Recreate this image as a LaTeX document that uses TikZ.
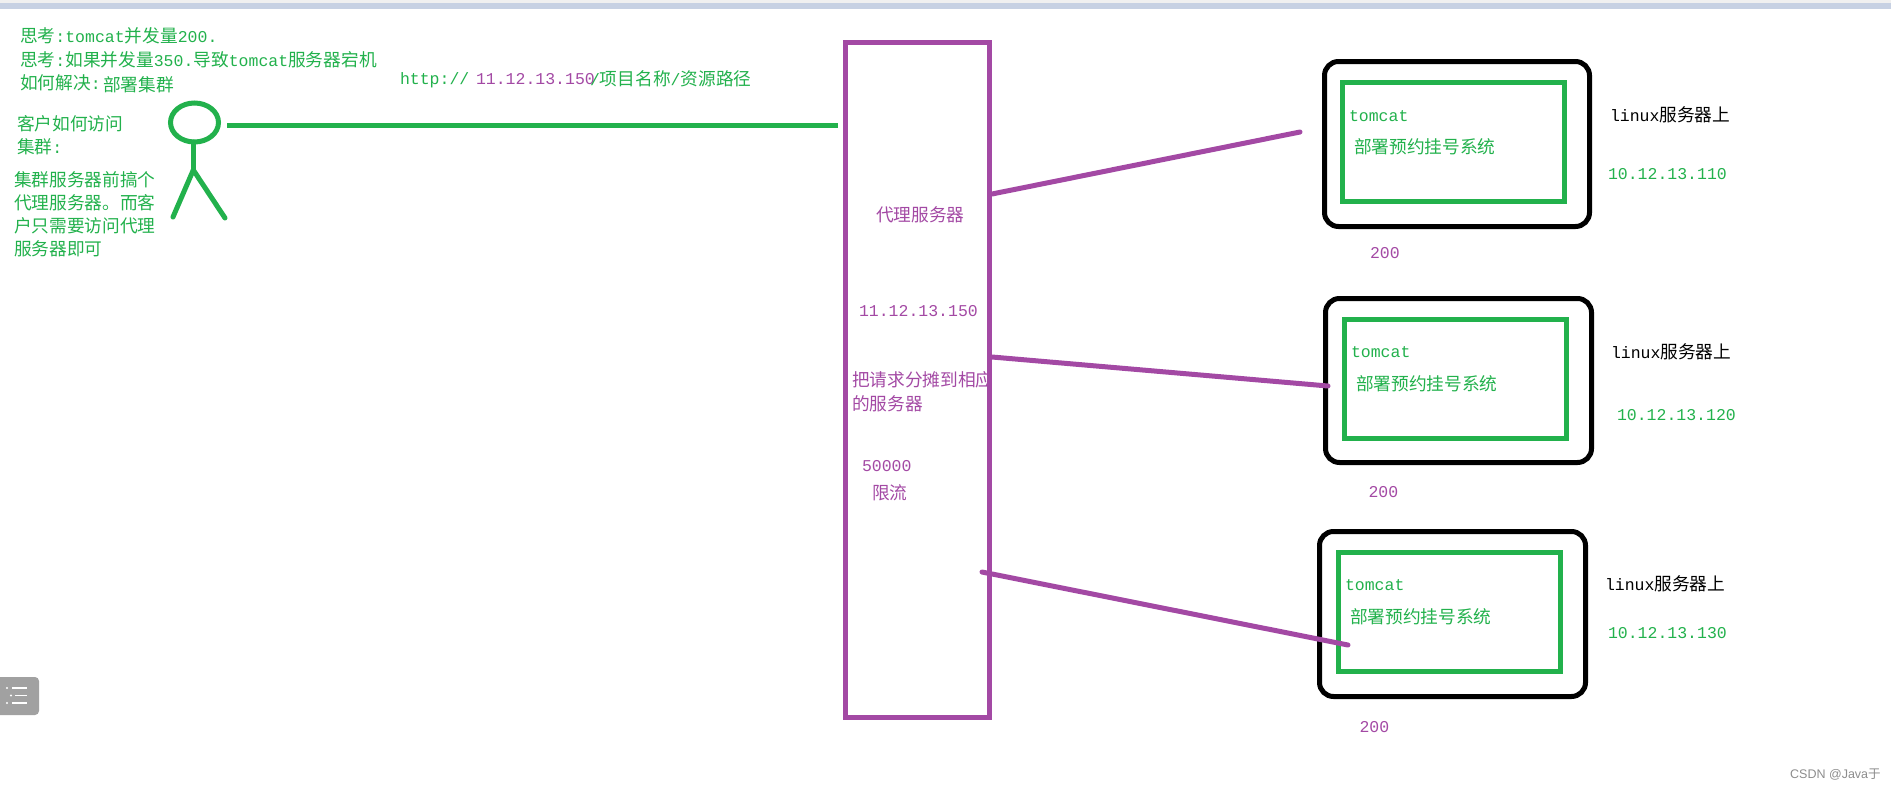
\documentclass[tikz,border=0pt]{standalone}
\usepackage{fontspec}
\usetikzlibrary{shapes.geometric}
\setmainfont{Liberation Mono}
\newfontfamily\cjk{Noto Sans CJK SC}
\newfontfamily\wm{Liberation Sans}
\newfontfamily\wmcjk{Noto Sans CJK SC}
\newcommand{\zh}[1]{{\cjk\fontsize{17.7}{17.7}\selectfont #1}}
\definecolor{pgreen}{HTML}{22B14C}
\definecolor{ppurple}{HTML}{A349A4}
\definecolor{barblue}{HTML}{C7D1E3}
\definecolor{bartop}{HTML}{F0F0F0}
\tikzset{
  txt/.style={anchor=base west,inner sep=0pt,outer sep=0pt,font=\fontsize{16.5}{16.5}\selectfont},
  gt/.style={txt,text=pgreen},
  pt/.style={txt,text=ppurple},
  kt/.style={txt,text=black},
  outerbox/.style={draw=black,line width=5pt,rounded corners=14pt,inner sep=0pt,outer sep=0pt},
  innerbox/.style={draw=pgreen,line width=5pt,inner sep=0pt,outer sep=0pt},
  proxybox/.style={draw=ppurple,line width=5pt,inner sep=0pt,outer sep=0pt},
  gline/.style={draw=pgreen,line width=5pt,line cap=round},
  pline/.style={draw=ppurple,line width=5pt,line cap=round},
}
\begin{document}
\begin{tikzpicture}[x=1pt,y=-1pt]
\useasboundingbox (0,0) rectangle (1891,790);
\fill[bartop] (0,0) rectangle (1891,3);
\fill[barblue] (0,3) rectangle (1891,9);
% top-left notes
\node[gt] (n1) at (20,42) {\zh{思考}:tomcat\zh{并发量}200.};
\node[gt] (n2) at (20,66) {\zh{思考}:\zh{如果并发量}350.\zh{导致}tomcat\zh{服务器宕机}};
\node[gt] (n3) at (20,89) {\zh{如何解决}:};
\node[gt] (n4) at (103,91) {\zh{部署集群}};
\node[gt] (n5) at (17,130) {\zh{客户如何访问}};
\node[gt] (n6) at (17,153) {\zh{集群}:};
\node[gt] (n7) at (14,186) {\zh{集群服务器前搞个}};
\node[gt] (n8) at (14,209) {\zh{代理服务器。而客}};
\node[gt] (n9) at (14,232) {\zh{户只需要访问代理}};
\node[gt] (n10) at (14,255) {\zh{服务器即可}};
% stick figure
\node[draw=pgreen,line width=5pt,ellipse,minimum width=48pt,minimum height=39pt,inner sep=0pt,outer sep=0pt] (head) at (194.5,122.5) {};
\coordinate (hip) at (193.3,170);
\coordinate (footl) at (173,217);
\coordinate (footr) at (225,218);
\coordinate (lineS) at (227,125);
\coordinate (lineE) at (838,125);
\draw[gline] (head.south -| hip) -- (hip);
\draw[gline] (hip) -- (footl);
\draw[gline] (hip) -- (footr);
\draw[gline,line cap=butt] (lineS) -- (lineE);
% url
\node[gt] (u1) at (400,84) {http://};
\node[pt] (u2) at (476,84) {11.12.13.150};
\node[gt] (u3) at (590,85) {/\zh{项目名称}/\zh{资源路径}};
% proxy
\node[proxybox,minimum width=144pt,minimum height=675pt] (proxy) at (917.5,380) {};
\node[pt] (p1) at (876,221) {\zh{代理服务器}};
\node[pt] (p2) at (859,316) {11.12.13.150};
\node[pt] (p3) at (852,386) {\zh{把请求分摊到相应}};
\node[pt] (p4) at (852,410) {\zh{的服务器}};
\node[pt] (p5) at (862,471) {50000};
\node[pt] (p6) at (872,499) {\zh{限流}};
% server 1
\node[outerbox,minimum width=265pt,minimum height=165pt] (s1) at (1457,144) {};
\node[innerbox,minimum width=222pt,minimum height=119pt] (t1) at (1453.5,142) {};
\node[gt] (a1) at (1349,121) {tomcat};
\node[gt] (b1) at (1354,153) {\zh{部署预约挂号系统}};
\node[kt] (c1) at (1610,121) {linux\zh{服务器上}};
\node[gt] (d1) at (1608,179) {10.12.13.110};
\node[pt] (e1) at (1370,258) {200};
% server 2
\node[outerbox,minimum width=266pt,minimum height=164pt] (s2) at (1458.5,380.5) {};
\node[innerbox,minimum width=222pt,minimum height=119pt] (t2) at (1455.5,379) {};
\node[gt] (a2) at (1351,357) {tomcat};
\node[gt] (b2) at (1356,390) {\zh{部署预约挂号系统}};
\node[kt] (c2) at (1611,358) {linux\zh{服务器上}};
\node[gt] (d2) at (1617,420) {10.12.13.120};
\node[pt] (e2) at (1368.5,497) {200};
% server 3
\node[outerbox,minimum width=266pt,minimum height=165pt] (s3) at (1452.5,614) {};
\node[innerbox,minimum width=222pt,minimum height=119pt] (t3) at (1449.5,612) {};
\node[gt] (a3) at (1345,590) {tomcat};
\node[gt] (b3) at (1350,623) {\zh{部署预约挂号系统}};
\node[kt] (c3) at (1605,590) {linux\zh{服务器上}};
\node[gt] (d3) at (1608,638) {10.12.13.130};
\node[pt] (e3) at (1359.5,732) {200};
% purple connectors
\coordinate (l1s) at (992,194);
\coordinate (l1e) at (1300,132);
\coordinate (l2s) at (992,357);
\coordinate (l2e) at (1328,386);
\coordinate (l3s) at (982,572);
\coordinate (l3e) at (1348,645);
\draw[pline] (l1s) -- (l1e);
\draw[pline] (l2s) -- (l2e);
\draw[pline] (l3s) -- (l3e);
% side widget
\fill[black!37,rounded corners=4pt] (-6,677) rectangle (39,715);
\draw[white,line width=1.6pt] (12,688) -- (27,688) (15,695.5) -- (27,695.5) (12,703) -- (27,703);
\fill[white] (7,688) circle[radius=1.1pt] (11,695.5) circle[radius=1.1pt] (7,703) circle[radius=1.1pt];
% watermark
\node[anchor=base west,inner sep=0pt,text=black!45,font=\fontsize{12.5}{12.5}\selectfont] (wm) at (1790,778) {\wm CSDN @Java\wmcjk 于};
\end{tikzpicture}
\end{document}
